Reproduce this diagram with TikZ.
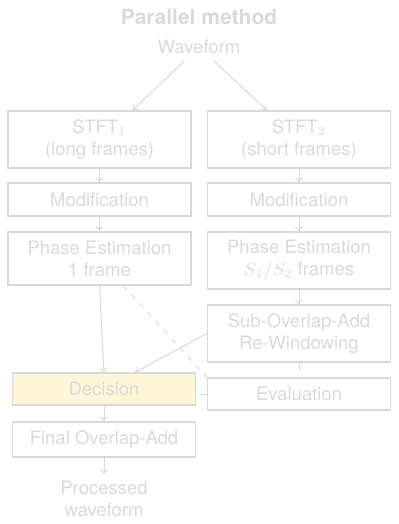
\documentclass[tikz,border=0pt]{standalone}
\usepackage{fontspec}
\setmainfont{TeX Gyre Heros}
\usepackage{xcolor}
\usetikzlibrary{arrows.meta,calc}
\definecolor{faded}{RGB}{217,217,217}
\definecolor{decfill}{RGB}{255,246,216}
\begin{document}
\begin{tikzpicture}[x=0.5pt,y=-0.5pt,
  block/.style={draw=faded,line width=0.6pt,text=faded,align=center,inner sep=0pt,minimum width=91.5pt,font=\fontsize{9.25}{11}\selectfont},
  plain/.style={text=faded,align=center,font=\fontsize{9.25}{11}\selectfont},
  link/.style={faded,line width=0.5pt},
  arr/.style={link,-{To[length=2.5pt,width=4pt]}}]
\useasboundingbox (0,0) rectangle (398,524);
\node[text=faded,font=\fontsize{10.5}{12}\selectfont\bfseries] (title) at (199,17) {Parallel method};
\node[plain] (wave) at (199,47) {Waveform};
% long frames branch
\node[block,minimum height=28.5pt] (stftA) at (99.5,139.5) {STFT$_1$\\(long frames)};
\node[block,minimum height=16.5pt] (modA) at (99.5,199.5) {Modification};
\node[block,minimum height=26.5pt] (peA) at (99.5,258.5) {Phase Estimation\\1 frame};
% short frames branch
\node[block,minimum height=28.5pt] (stftB) at (299,139.5) {STFT$_2$\\(short frames)};
\node[block,minimum height=16.5pt] (modB) at (299,199.5) {Modification};
\node[block,minimum height=28.5pt] (peB) at (299,260.5) {Phase Estimation\\$S_1/S_2$ frames};
\node[block,minimum height=28.5pt] (sola) at (299,333.5) {Sub-Overlap-Add\\Re-Windowing};
\node[block,minimum height=16pt] (eval) at (299,394) {Evaluation};
% merge
\node[block,fill=decfill,minimum height=16pt] (dec) at (104,389) {Decision};
\node[block,minimum height=17.5pt] (fola) at (104,439.5) {Final Overlap-Add};
\node[plain] (proc) at (104,499) {Processed\\waveform};
\draw[arr] (wave) -- ([xshift=16.5pt]stftA.north);
\draw[arr] (wave) -- ([xshift=-16pt]stftB.north);
\draw[arr] (stftA) -- (modA);
\draw[arr] (modA) -- (peA);
\draw[arr] (stftB) -- (modB);
\draw[arr] (modB) -- (peB);
\draw[arr] (peB) -- (sola);
\draw[arr] (peA.south) -- (dec.north);
\draw[arr] (sola.west) -- ([xshift=15.5pt]dec.north);
\draw[link,dashed] ([xshift=11.75pt]peA.south) -- (eval.north west);
\draw[link] (sola.south) -- ++(0,8);
\draw[link] (eval.west) -- ++(-8,0);
\draw[arr] (dec) -- (fola);
\draw[arr] (fola) -- (proc);
\end{tikzpicture}
\end{document}
